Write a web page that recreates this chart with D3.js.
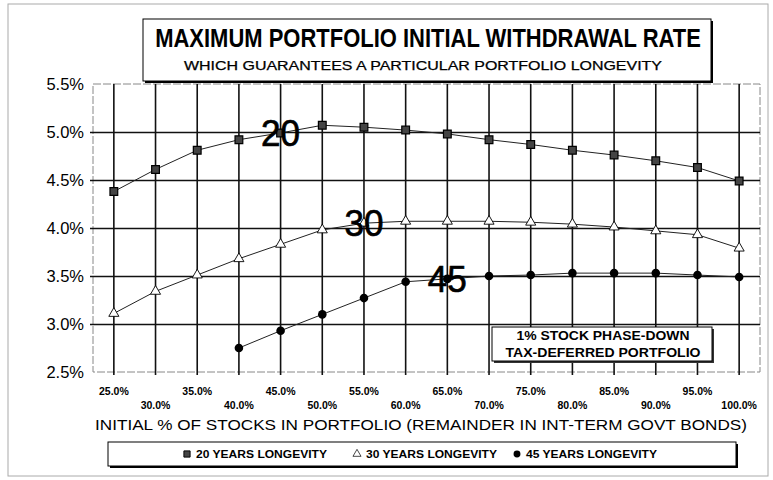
<!DOCTYPE html>
<html>
<head>
<meta charset="utf-8">
<script src="https://cdn.jsdelivr.net/npm/d3@7"></script>
<style>
  body { margin: 0; background: #fff; }
  text { font-family: "Liberation Sans", Arial, sans-serif; fill: #000; }
</style>
</head>
<body>
<div id="chart"></div>
<script>
// % of stocks in the portfolio
const stockPct = [25, 30, 35, 40, 45, 50, 55, 60, 65, 70, 75, 80, 85, 90, 95, 100];
// max initial withdrawal rate (%), one list per longevity
const years20 = [4.38, 4.61, 4.81, 4.92, 4.99, 5.07, 5.05, 5.02, 4.98, 4.92, 4.87, 4.81, 4.76, 4.70, 4.63, 4.49];
const years30 = [3.11, 3.34, 3.51, 3.68, 3.83, 3.98, 4.05, 4.07, 4.07, 4.07, 4.06, 4.04, 4.01, 3.97, 3.93, 3.79];
const years45 = [null, null, null, 2.75, 2.93, 3.10, 3.27, 3.44, 3.47, 3.50, 3.51, 3.53, 3.53, 3.53, 3.51, 3.49];
const yTicks = [2.5, 3.0, 3.5, 4.0, 4.5, 5.0, 5.5];
const seriesNames = ["20 YEARS LONGEVITY", "30 YEARS LONGEVITY", "45 YEARS LONGEVITY"];
// big in-plot labels: text, and the stock % they sit on
const curveLabels = [["20", 45, years20], ["30", 55, years30], ["45", 65, years45]];

const width = 773, height = 480;
const plot = {left: 93, right: 760, top: 84, bottom: 372};

const svg = d3.select("#chart").append("svg")
    .attr("width", width)
    .attr("height", height);

// faint outer frame
svg.append("rect")
    .attr("x", 8).attr("y", 4)
    .attr("width", 760).attr("height", 472)
    .attr("fill", "none")
    .attr("stroke", "#aaa");

const x = d3.scalePoint()
    .domain(stockPct)
    .range([plot.left, plot.right])
    .padding(0.5);

const y = d3.scaleLinear()
    .domain([2.5, 5.5])
    .range([plot.bottom, plot.top]);

// plot frame (grey, dashed look of the scan)
svg.append("rect")
    .attr("x", plot.left).attr("y", plot.top)
    .attr("width", plot.right - plot.left)
    .attr("height", plot.bottom - plot.top)
    .attr("fill", "none")
    .attr("stroke", "#888")
    .attr("stroke-dasharray", "8,2");

// horizontal gridlines + y labels (outer two are the frame)
svg.append("g")
    .attr("transform", "translate(" + plot.left + ",0)")
    .call(d3.axisLeft(y).tickValues(yTicks)
        .tickSize(-(plot.right - plot.left))
        .tickSizeOuter(0)
        .tickFormat(d => d.toFixed(1) + "%")
        .tickPadding(9))
    .call(g => g.select(".domain").remove())
    .call(g => g.selectAll(".tick line")
        .attr("x1", -3)
        .attr("stroke", d => (d === 2.5 || d === 5.5) ? "none" : "#111")
        .attr("stroke-width", 1.6))
    .call(g => g.selectAll(".tick text")
        .attr("font-size", 16.5)
        .attr("font-family", "Liberation Sans, Arial, sans-serif"));

// vertical gridlines
svg.append("g")
    .selectAll("line")
    .data(stockPct)
    .enter().append("line")
    .attr("x1", d => x(d)).attr("x2", d => x(d))
    .attr("y1", plot.top).attr("y2", plot.bottom + 3)
    .attr("stroke", "#111")
    .attr("stroke-width", 1.6);

// x tick labels, staggered on two rows
svg.append("g")
    .selectAll("text")
    .data(stockPct)
    .enter().append("text")
    .attr("x", d => x(d))
    .attr("y", (d, i) => i % 2 === 0 ? 395 : 409)
    .attr("text-anchor", "middle")
    .attr("font-size", 10.5)
    .attr("font-weight", "bold")
    .text(d => d.toFixed(1) + "%");

svg.append("text")
    .attr("x", 421).attr("y", 430)
    .attr("text-anchor", "middle")
    .attr("font-size", 14)
    .attr("textLength", 652)
    .attr("lengthAdjust", "spacingAndGlyphs")
    .text("INITIAL % OF STOCKS IN PORTFOLIO (REMAINDER IN INT-TERM GOVT BONDS)");

// series
const line = d3.line()
    .defined(d => d[1] != null)
    .x(d => x(d[0]))
    .y(d => y(d[1]));

const allSeries = [years20, years30, years45].map(vals => stockPct.map((p, i) => [p, vals[i]]));

allSeries.forEach(pts => {
    svg.append("path")
        .datum(pts)
        .attr("d", line)
        .attr("fill", "none")
        .attr("stroke", "#222")
        .attr("stroke-width", 1);
});

const square = d3.symbol().type(d3.symbolSquare).size(60);
const triangle = d3.symbol().type(d3.symbolTriangle).size(44);

function drawMarker(sel, kind, small) {
    const k = small ? 0.8 : 1;
    if (kind === 0) {
        sel.append("path").attr("d", square).attr("transform", "scale(" + k + ")")
            .attr("fill", "#444").attr("stroke", "#000").attr("stroke-width", 1.2);
    } else if (kind === 1) {
        sel.append("path").attr("d", triangle).attr("transform", "scale(" + k + ")")
            .attr("fill", "#fff").attr("stroke", "#000").attr("stroke-width", 0.9);
    } else {
        sel.append("circle").attr("r", 4.3 * k).attr("fill", "#000");
    }
}

allSeries.forEach((pts, k) => {
    svg.append("g")
        .selectAll("g")
        .data(pts.filter(d => d[1] != null))
        .enter().append("g")
        .attr("transform", d => "translate(" + x(d[0]) + "," + y(d[1]) + ")")
        .each(function () { drawMarker(d3.select(this), k, false); });
});

// big curve labels
curveLabels.forEach(([txt, pct, vals]) => {
    svg.append("text")
        .attr("x", x(pct))
        .attr("y", y(vals[stockPct.indexOf(pct)]))
        .attr("dy", "0.36em")
        .attr("text-anchor", "middle")
        .attr("font-size", 36)
        .attr("stroke", "#000")
        .attr("stroke-width", 0.7)
        .attr("textLength", 39)
        .attr("lengthAdjust", "spacingAndGlyphs")
        .text(txt);
});

// title box
svg.append("rect")
    .attr("x", 145).attr("y", 21)
    .attr("width", 568).attr("height", 62)
    .attr("fill", "#000");
svg.append("rect")
    .attr("x", 143).attr("y", 19)
    .attr("width", 568).attr("height", 62)
    .attr("fill", "#fff")
    .attr("stroke", "#000");

// title is a condensed face in the original: squeeze it to its width
const title = svg.append("text")
    .attr("text-anchor", "middle")
    .attr("font-size", 25)
    .attr("font-weight", "bold")
    .text("MAXIMUM PORTFOLIO INITIAL WITHDRAWAL RATE");
const titleK = Math.min(1, 546 / title.node().getComputedTextLength());
title.attr("transform", "translate(428,47) scale(" + titleK + ",1)");

svg.append("text")
    .attr("x", 423).attr("y", 70)
    .attr("text-anchor", "middle")
    .attr("font-size", 12.5)
    .attr("stroke", "#000")
    .attr("stroke-width", 0.25)
    .attr("textLength", 478)
    .attr("lengthAdjust", "spacingAndGlyphs")
    .text("WHICH GUARANTEES A PARTICULAR PORTFOLIO LONGEVITY");

// note box
svg.append("rect")
    .attr("x", 494).attr("y", 329)
    .attr("width", 220).attr("height", 34)
    .attr("fill", "#333");
svg.append("rect")
    .attr("x", 492).attr("y", 327)
    .attr("width", 220).attr("height", 34)
    .attr("fill", "#fff")
    .attr("stroke", "#000");
svg.append("text")
    .attr("x", 603).attr("y", 340)
    .attr("text-anchor", "middle")
    .attr("font-size", 13)
    .attr("font-weight", "bold")
    .attr("textLength", 173)
    .attr("lengthAdjust", "spacingAndGlyphs")
    .text("1% STOCK PHASE-DOWN");
svg.append("text")
    .attr("x", 603).attr("y", 357)
    .attr("text-anchor", "middle")
    .attr("font-size", 13)
    .attr("font-weight", "bold")
    .attr("textLength", 195)
    .attr("lengthAdjust", "spacingAndGlyphs")
    .text("TAX-DEFERRED PORTFOLIO");

// legend
svg.append("rect")
    .attr("x", 110).attr("y", 444)
    .attr("width", 628).attr("height", 24)
    .attr("fill", "#000");
svg.append("rect")
    .attr("x", 108).attr("y", 442)
    .attr("width", 628).attr("height", 24)
    .attr("fill", "#fff")
    .attr("stroke", "#000");

const legendX = [187, 357, 517];
seriesNames.forEach((name, k) => {
    const g = svg.append("g").attr("transform", "translate(" + legendX[k] + ",454)");
    drawMarker(g, k, true);
    g.append("text")
        .attr("x", 9).attr("y", 4)
        .attr("font-size", 11.5)
        .attr("font-weight", "bold")
        .attr("textLength", 131)
        .attr("lengthAdjust", "spacingAndGlyphs")
        .text(name);
});
</script>
</body>
</html>
